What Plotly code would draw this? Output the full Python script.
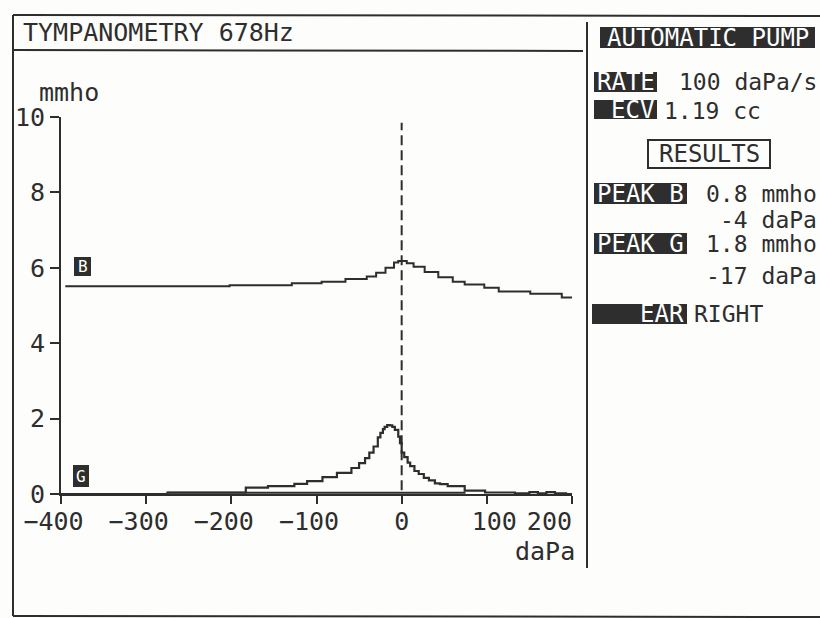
import plotly.graph_objects as go

W, H = 820, 618

# ---- data ----
b_pressure = [-395, -202, -129, -94, -66, -41, -30, -19, -9, -4, 6, 14, 27, 43, 60, 74, 97, 114, 151, 188, 200]
b_admittance = [5.51, 5.54, 5.59, 5.63, 5.70, 5.77, 5.87, 6.00, 6.14, 6.18, 6.12, 6.03, 5.89, 5.75, 5.63, 5.56, 5.47, 5.37, 5.31, 5.21, 5.21]

g_pressure = [-400, -275, -183, -157, -126, -111, -93, -76, -59, -50, -43, -38, -33, -28, -25, -22, -20, -17, -14, -11,
              -8, -4, -2, 0, 3, 7, 10, 15, 20, 26, 32, 39, 45, 54, 74, 98, 133, 150, 160, 170, 180, 193, 200]
g_admittance = [0.0, 0.04, 0.17, 0.21, 0.27, 0.34, 0.45, 0.56, 0.69, 0.82, 0.95, 1.10, 1.26, 1.50, 1.62, 1.72, 1.78, 1.83, 1.82, 1.78,
                1.70, 1.52, 1.35, 1.10, 0.98, 0.83, 0.74, 0.61, 0.53, 0.43, 0.36, 0.28, 0.26, 0.21, 0.09, 0.04, 0.02, 0.05, 0.02, 0.05, 0.02, 0.0, 0.0]

g_return_pressure = [-275, 75]
g_return_admittance = [0.03, 0.03]

x_ticks = [-400, -300, -200, -100, 0, 100, 200]
x_tick_labels = ["−400\u00a0", "−300\u00a0", "−200\u00a0", "−100\u00a0", "0", "\u00a0100", "200\u00a0\u00a0\u00a0"]
y_ticks = [0, 2, 4, 6, 8, 10]

INK = "#2e2e2e"
FONT = "DejaVu Sans Mono"
FS = 25


def px(x):
    return x / W


def py(y):
    return 1 - y / H


fig = go.Figure()
fig.add_trace(go.Scatter(x=b_pressure, y=b_admittance, mode="lines", line=dict(color=INK, width=2, shape="hv"),
                         showlegend=False, hoverinfo="skip"))
fig.add_trace(go.Scatter(x=g_return_pressure, y=g_return_admittance, mode="lines", line=dict(color=INK, width=2),
                         showlegend=False, hoverinfo="skip"))
fig.add_trace(go.Scatter(x=g_pressure, y=g_admittance, mode="lines", line=dict(color=INK, width=2.2, shape="hv"),
                         showlegend=False, hoverinfo="skip"))

shapes = []
# outer frame of the printout
for (x0, y0, x1, y1) in [(13, 15, 820, 16), (13, 15, 13, 616), (13, 616, 820, 617), (13, 50, 583, 51), (587, 22, 587, 568)]:
    shapes.append(dict(type="line", xref="paper", yref="paper", x0=px(x0), y0=py(y0), x1=px(x1), y1=py(y1),
                       line=dict(color=INK, width=2)))
# dashed zero line
shapes.append(dict(type="line", xref="x", yref="y", x0=0, x1=0, y0=0.1, y1=9.85,
                   line=dict(color=INK, width=2, dash="10px,5px")))

annotations = []


def text(t, x, y, anchor="left", color=INK, size=FS, h=None):
    a = dict(text=t, x=px(x), y=py(y), xref="paper", yref="paper", xanchor=anchor, yanchor="middle",
             showarrow=False, font=dict(family=FONT, size=size, color=color))
    if h is not None:
        a["height"] = h
    annotations.append(a)


def inv_box(x0, y0, x1, y1):
    shapes.append(dict(type="rect", xref="paper", yref="paper", x0=px(x0), y0=py(y0), x1=px(x1), y1=py(y1),
                       fillcolor=INK, line=dict(width=0)))


text("TYMPANOMETRY 678Hz", 21, 33)
text("mmho", 37, 92)
text("daPa", 577, 551, anchor="right")

# curve tags
inv_box(74, 257, 91, 276)
text("B", 82.5, 266.5, anchor="center", color="white", size=16)
inv_box(73, 465, 89, 487)
text("G", 81, 476, anchor="center", color="white", size=16)

# right panel
RS = 24
VS = 23
inv_box(600, 27, 815, 48)
text("AUTOMATIC PUMP", 707.5, 38, anchor="center", color="white", size=RS)
inv_box(594, 72, 657, 92)
text("RATE", 625.5, 82, anchor="center", color="white", size=RS)
text("100 daPa/s", 819, 82, anchor="right", size=VS, h=23)
inv_box(594, 100, 657, 119)
text("ECV", 656, 110, anchor="right", color="white", size=RS)
text("1.19 cc", 662, 110, size=VS, h=23)
shapes.append(dict(type="rect", xref="paper", yref="paper", x0=px(648), y0=py(140), x1=px(770), y1=py(168),
                   line=dict(color=INK, width=2)))
text("RESULTS", 709, 154, anchor="center", size=RS)
inv_box(594, 183, 687, 204)
text("PEAK B", 640.5, 193.5, anchor="center", color="white", size=RS, h=21)
text("0.8 mmho", 819, 193.5, anchor="right", size=VS, h=23)
text("-4 daPa", 819, 219, anchor="right", size=VS, h=23)
inv_box(594, 233, 687, 254)
text("PEAK G", 640.5, 243.5, anchor="center", color="white", size=RS, h=21)
text("1.8 mmho", 819, 243.5, anchor="right", size=VS, h=23)
text("-17 daPa", 819, 275, anchor="right", size=VS, h=23)
inv_box(592, 304, 687, 324)
text("EAR", 686, 314, anchor="right", color="white", size=RS)
text("RIGHT", 692, 314, size=VS)

fig.update_layout(
    width=W, height=H,
    margin=dict(l=0, r=0, t=0, b=0, pad=0, autoexpand=False),
    paper_bgcolor="#fdfdfb", plot_bgcolor="rgba(0,0,0,0)",
    shapes=shapes, annotations=annotations,
    xaxis=dict(domain=[px(61), px(572)], range=[-400, 200], tickvals=x_ticks, ticktext=x_tick_labels,
               showgrid=False, zeroline=False, showline=True, linecolor=INK, linewidth=2,
               ticks="outside", ticklen=8, tickwidth=2, tickcolor=INK, automargin=False, ticklabelstandoff=-4,
               tickfont=dict(family=FONT, size=FS, color=INK), fixedrange=True),
    yaxis=dict(domain=[py(494), py(117)], range=[0, 10], tickvals=y_ticks,
               showgrid=False, zeroline=False, showline=True, linecolor=INK, linewidth=2,
               ticks="outside", ticklen=9, tickwidth=2, tickcolor=INK, automargin=False,
               tickfont=dict(family=FONT, size=FS, color=INK), fixedrange=True),
    showlegend=False,
)

fig.write_html("out.html")
